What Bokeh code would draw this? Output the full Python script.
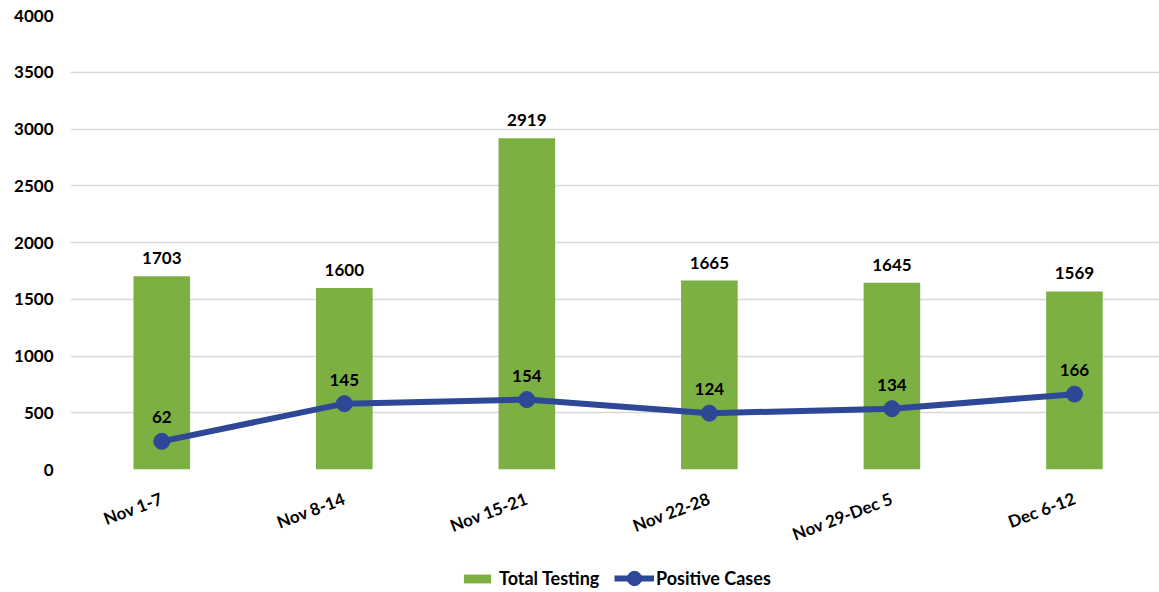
from bokeh.plotting import figure
from bokeh.layouts import column
from bokeh.models import (Range1d, FixedTicker, ColumnDataSource, LabelSet, Legend, LegendItem)
from bokeh.core.properties import value
from bokeh.embed import file_html
from bokeh.resources import INLINE

weeks = ["Nov 1-7", "Nov 8-14", "Nov 15-21", "Nov 22-28", "Nov 29-Dec 5", "Dec 6-12"]
total_testing = [1703, 1600, 2919, 1665, 1645, 1569]
positive_cases = [62, 145, 154, 124, 134, 166]
y_ticks = [0, 500, 1000, 1500, 2000, 2500, 3000, 3500, 4000]

FONT = "Lato"
GREEN = "#7cb042"
BLUE = "#2e4796"

xs = [i + 0.5 for i in range(len(weeks))]
src = ColumnDataSource(dict(x=xs, total=total_testing, pos=positive_cases,
                            total_lbl=[str(v) for v in total_testing],
                            pos_lbl=[str(v) for v in positive_cases]))

p = figure(width=1159, height=557, output_backend="svg", toolbar_location=None,
           x_range=Range1d(0, 5.966), y_range=Range1d(0, 4000))
p.extra_y_ranges = {"pos": Range1d(0, 1000)}
p.min_border_left = 70
p.min_border_right = 0
p.min_border_top = 15
p.min_border_bottom = 88
p.outline_line_color = None

bars = p.vbar(x="x", top="total", width=0.31, source=src, fill_color=GREEN, line_color=None)
line = p.line(x="x", y="pos", source=src, y_range_name="pos", line_color=BLUE, line_width=6)
pts = p.scatter(x="x", y="pos", source=src, y_range_name="pos", size=16, fill_color=BLUE, line_color=BLUE)

p.xgrid.grid_line_color = None
p.ygrid.grid_line_color = "#d9d9d9"
p.ygrid.grid_line_width = 1.5
p.yaxis.ticker = FixedTicker(ticks=y_ticks)
p.yaxis.axis_line_color = None
p.yaxis.major_tick_line_color = None
p.yaxis.minor_tick_line_color = None
p.yaxis.major_label_text_font = FONT
p.yaxis.major_label_text_font_style = "bold"
p.yaxis.major_label_text_font_size = "17px"
p.yaxis.major_label_text_color = "#000000"
p.yaxis.major_label_standoff = 11

p.xaxis.ticker = FixedTicker(ticks=xs)
p.xaxis.major_label_overrides = {x: w for x, w in zip(xs, weeks)}
p.xaxis.axis_line_color = None
p.xaxis.major_tick_line_color = None
p.xaxis.minor_tick_line_color = None
p.xaxis.major_label_orientation = 0.36
p.xaxis.major_label_text_font = FONT
p.xaxis.major_label_text_font_style = "bold"
p.xaxis.major_label_text_font_size = "17px"
p.xaxis.major_label_text_color = "#000000"
p.xaxis.major_label_standoff = 22

p.add_layout(LabelSet(x="x", y="total", text="total_lbl", source=src, y_offset=18,
                      text_align="center", text_baseline="middle", text_font=value(FONT),
                      text_font_style="bold", text_font_size="17px", text_color="#000000"))
p.add_layout(LabelSet(x="x", y="pos", text="pos_lbl", source=src, y_range_name="pos", y_offset=24,
                      text_align="center", text_baseline="middle", text_font=value(FONT),
                      text_font_style="bold", text_font_size="17px", text_color="#000000"))

# legend panel (its glyphs lie far outside its ranges, only the legends show)
lg = figure(width=1159, height=35, output_backend="svg", toolbar_location=None,
            x_range=Range1d(-1001, -1000), y_range=Range1d(-1001, -1000), min_border=0)
lg.axis.visible = False
lg.grid.visible = False
lg.outline_line_color = None
lb = lg.vbar(x="x", top="total", width=0.31, source=src, fill_color=GREEN, line_color=None)
ll = lg.line(x="x", y="pos", source=src, line_color=BLUE, line_width=6)
lp = lg.scatter(x="x", y="pos", source=src, size=16, fill_color=BLUE, line_color=BLUE)

common = dict(orientation="horizontal", label_text_font=FONT, label_text_font_style="bold",
              label_text_font_size="18px", label_text_color="#000000",
              border_line_color=None, background_fill_alpha=0, padding=0, margin=0,
              label_height=22)
legend1 = Legend(items=[LegendItem(label="Total Testing", renderers=[lb])],
                 location=(390, 3), glyph_width=34, glyph_height=11, label_standoff=5, **common)
legend2 = Legend(items=[LegendItem(label="Positive Cases", renderers=[ll, lp])],
                 location=(544, -4), glyph_width=40, glyph_height=36, label_standoff=2, **common)
lg.add_layout(legend1, "center")
lg.add_layout(legend2, "center")

open("out.html", "w").write(file_html(column(p, lg, spacing=0), INLINE))
